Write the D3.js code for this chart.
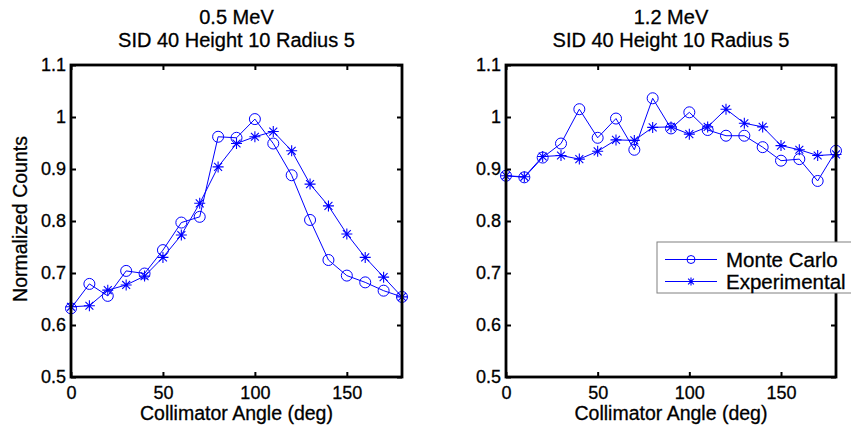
<!DOCTYPE html>
<html><head><meta charset="utf-8">
<script src="https://cdn.jsdelivr.net/npm/d3@7"></script>
<style>body{margin:0;background:#fff}svg{display:block}text{font-family:"Liberation Sans",Arial,sans-serif;fill:#000;stroke:#000;stroke-width:0.3px}</style>
</head><body><svg id="c" width="851" height="431"></svg>
<script>
const angles = [0,10,20,30,40,50,60,70,80,90,100,110,120,130,140,150,160,170,180];
const mc05 = [0.632,0.679,0.656,0.704,0.699,0.744,0.797,0.808,0.962,0.960,0.996,0.949,0.888,0.802,0.725,0.695,0.682,0.666,0.654];
const exp05 = [0.635,0.637,0.667,0.677,0.694,0.730,0.773,0.834,0.904,0.949,0.962,0.972,0.935,0.871,0.829,0.775,0.730,0.692,0.654];
const mc12 = [0.887,0.884,0.922,0.949,1.015,0.960,0.997,0.937,1.036,0.978,1.009,0.975,0.964,0.964,0.942,0.916,0.919,0.877,0.935];
const exp12 = [0.887,0.885,0.924,0.926,0.919,0.934,0.956,0.955,0.980,0.981,0.967,0.981,1.015,0.988,0.981,0.945,0.937,0.926,0.928];
const xTicks = [0,50,100,150];
const yTicks = [0.5,0.6,0.7,0.8,0.9,1,1.1];
const titles = [["0.5 MeV","SID 40 Height 10 Radius 5"],["1.2 MeV","SID 40 Height 10 Radius 5"]];
const seriesNames = ["Monte Carlo","Experimental"];
const xLabel = "Collimator Angle (deg)";
const yLabel = "Normalized Counts";

const svg = d3.select("#c");
const blue = "#0000ff";
const panels = [
  {x0:71, x1:402, mc:mc05, ex:exp05, t:titles[0], ylab:true, legend:false},
  {x0:506, x1:836, mc:mc12, ex:exp12, t:titles[1], ylab:false, legend:true}
];
const yTop = 65, yBot = 377;

function star(g, x, y, s){
  const d = s*0.72;
  g.append("path").attr("d",`M${x-s},${y}L${x+s},${y}M${x},${y-s}L${x},${y+s}M${x-d},${y-d}L${x+d},${y+d}M${x-d},${y+d}L${x+d},${y-d}`)
   .attr("stroke",blue).attr("stroke-width",1.1).attr("fill","none");
}

panels.forEach(p=>{
  const x = d3.scaleLinear().domain([0,180]).range([p.x0,p.x1]);
  const y = d3.scaleLinear().domain([0.5,1.1]).range([yBot,yTop]);
  const g = svg.append("g");
  const line = d3.line().x((d,i)=>x(angles[i])).y(d=>y(d));
  g.append("path").datum(p.mc).attr("d",line).attr("fill","none").attr("stroke",blue).attr("stroke-width",1);
  g.append("path").datum(p.ex).attr("d",line).attr("fill","none").attr("stroke",blue).attr("stroke-width",1);
  g.selectAll("circle.mc").data(p.mc).enter().append("circle")
    .attr("cx",(d,i)=>x(angles[i])).attr("cy",d=>y(d)).attr("r",5.5)
    .attr("fill","none").attr("stroke",blue).attr("stroke-width",1);
  p.ex.forEach((d,i)=>star(g,x(angles[i]),y(d),5.5));
  const ax = g.append("g");
  const bottom = d3.axisBottom(x).tickValues(xTicks).tickSize(-5).tickPadding(9).tickFormat(d3.format("d"));
  const top = d3.axisTop(x).tickValues(xTicks).tickSize(-5).tickFormat("");
  const left = d3.axisLeft(y).tickValues(yTicks).tickSize(-5).tickPadding(5).tickFormat(d=>d===1?"1":d3.format(".1f")(d));
  const right = d3.axisRight(y).tickValues(yTicks).tickSize(-5).tickFormat("");
  ax.append("g").attr("transform",`translate(0,${yBot})`).call(bottom);
  ax.append("g").attr("transform",`translate(0,${yTop})`).call(top);
  ax.append("g").attr("transform",`translate(${p.x0},0)`).call(left);
  ax.append("g").attr("transform",`translate(${p.x1},0)`).call(right);
  ax.selectAll(".domain").remove();
  ax.selectAll(".tick line").attr("stroke","#000").attr("stroke-width",2);
  ax.selectAll(".tick text").attr("font-size",18).attr("font-family","Liberation Sans, Arial, sans-serif").attr("fill","#000");
  ax.append("rect").attr("x",p.x0).attr("y",yTop).attr("width",p.x1-p.x0).attr("height",yBot-yTop)
    .attr("fill","none").attr("stroke","#000").attr("stroke-width",2.8);
  const cx = (p.x0+p.x1)/2;
  g.append("text").attr("x",cx).attr("y",24).attr("text-anchor","middle").attr("font-size",20).text(p.t[0]);
  g.append("text").attr("x",cx).attr("y",47).attr("text-anchor","middle").attr("font-size",20).text(p.t[1]);
  g.append("text").attr("x",cx).attr("y",420).attr("text-anchor","middle").attr("font-size",19.5).text(xLabel);
  if(p.ylab){
    g.append("text").attr("transform",`translate(27,219) rotate(-90)`).attr("text-anchor","middle").attr("font-size",19.5).text(yLabel);
  }
  if(p.legend){
    const lg = svg.append("g");
    lg.append("rect").attr("x",657).attr("y",242).attr("width",200).attr("height",51)
      .attr("fill","#fff").attr("stroke","#808080").attr("stroke-width",1);
    const rows = [259.5,281.5];
    rows.forEach((ry,k)=>{
      lg.append("line").attr("x1",665).attr("x2",717).attr("y1",ry).attr("y2",ry).attr("stroke",blue).attr("stroke-width",1);
      if(k===0) lg.append("circle").attr("cx",691).attr("cy",ry).attr("r",4).attr("fill","none").attr("stroke",blue);
      else star(lg,691,ry,4);
      lg.append("text").attr("x",726).attr("y",ry+7).attr("font-size",20.5).text(seriesNames[k]);
    });
  }
});
</script></body></html>
